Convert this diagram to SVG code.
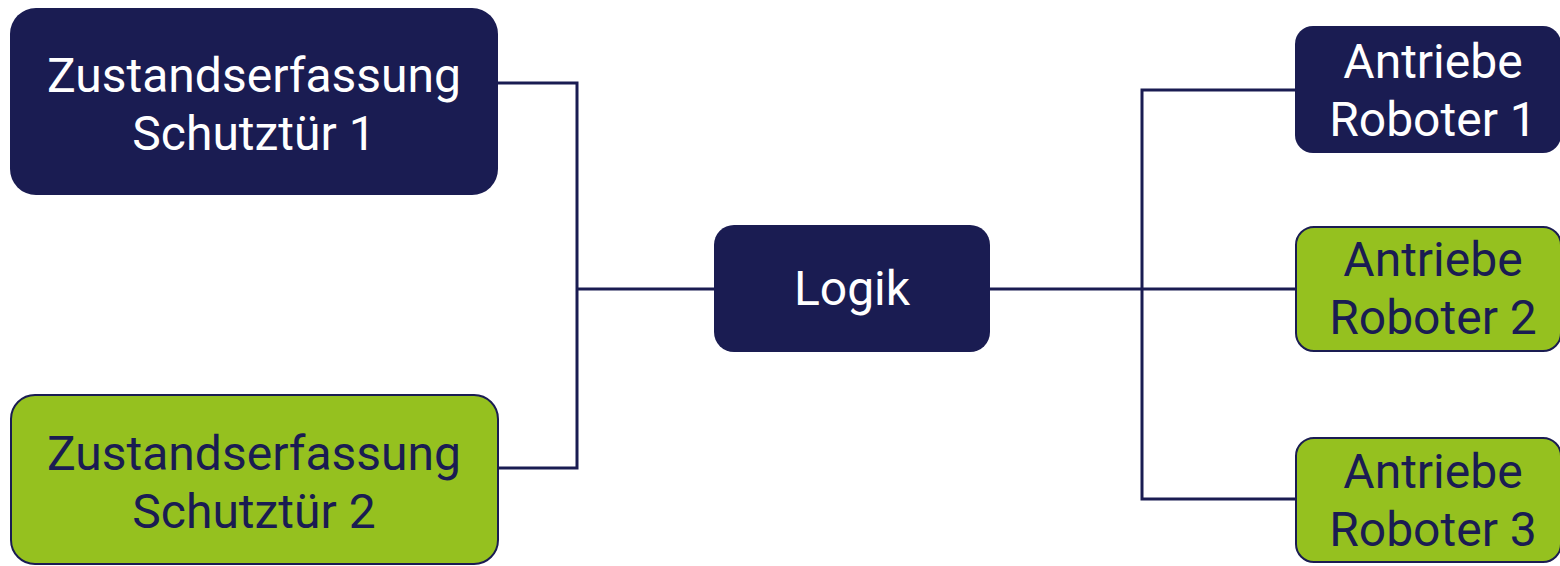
<svg xmlns="http://www.w3.org/2000/svg" width="1560" height="566" viewBox="0 0 1560 566">
  <style>
    .navy { fill: #1a1c52; }
    .green { fill: #95c11f; stroke: #1a1c52; stroke-width: 2; }
    .lbl { font-family: Roboto, "Liberation Sans", sans-serif; font-size: 48px; text-anchor: middle; }
    .light { fill: #ffffff; }
    .dark { fill: #1a1c52; }
    .wire { fill: none; stroke: #1a1c52; stroke-width: 3; }
  </style>
  <rect width="1560" height="566" fill="#ffffff"/>
  <g id="connectors">
    <polyline class="wire" points="498,83 577,83 577,468 498,468"/>
    <line class="wire" x1="577" y1="289" x2="714" y2="289"/>
    <line class="wire" x1="990" y1="289" x2="1296" y2="289"/>
    <polyline class="wire" points="1296,90 1142,90 1142,499 1296,499"/>
  </g>
  <g id="door1">
    <rect class="navy" x="10" y="8" width="488" height="187" rx="26"/>
    <text class="lbl light" x="254" y="92">Zustandserfassung</text>
    <text class="lbl light" x="254" y="150">Schutztür 1</text>
  </g>
  <g id="door2">
    <rect class="green" x="11" y="395" width="487" height="169" rx="24"/>
    <text class="lbl dark" x="254" y="470">Zustandserfassung</text>
    <text class="lbl dark" x="254" y="528">Schutztür 2</text>
  </g>
  <g id="logic">
    <rect class="navy" x="714" y="225" width="276" height="127" rx="20"/>
    <text class="lbl light" x="852" y="305">Logik</text>
  </g>
  <g id="robot1">
    <rect class="navy" x="1295" y="26" width="266" height="127" rx="18"/>
    <text class="lbl light" x="1433" y="78">Antriebe</text>
    <text class="lbl light" x="1433" y="136">Roboter 1</text>
  </g>
  <g id="robot2">
    <rect class="green" x="1296" y="227" width="265" height="124" rx="18"/>
    <text class="lbl dark" x="1433" y="276">Antriebe</text>
    <text class="lbl dark" x="1433" y="334">Roboter 2</text>
  </g>
  <g id="robot3">
    <rect class="green" x="1296" y="438" width="265" height="124" rx="18"/>
    <text class="lbl dark" x="1433" y="488">Antriebe</text>
    <text class="lbl dark" x="1433" y="546">Roboter 3</text>
  </g>
</svg>
